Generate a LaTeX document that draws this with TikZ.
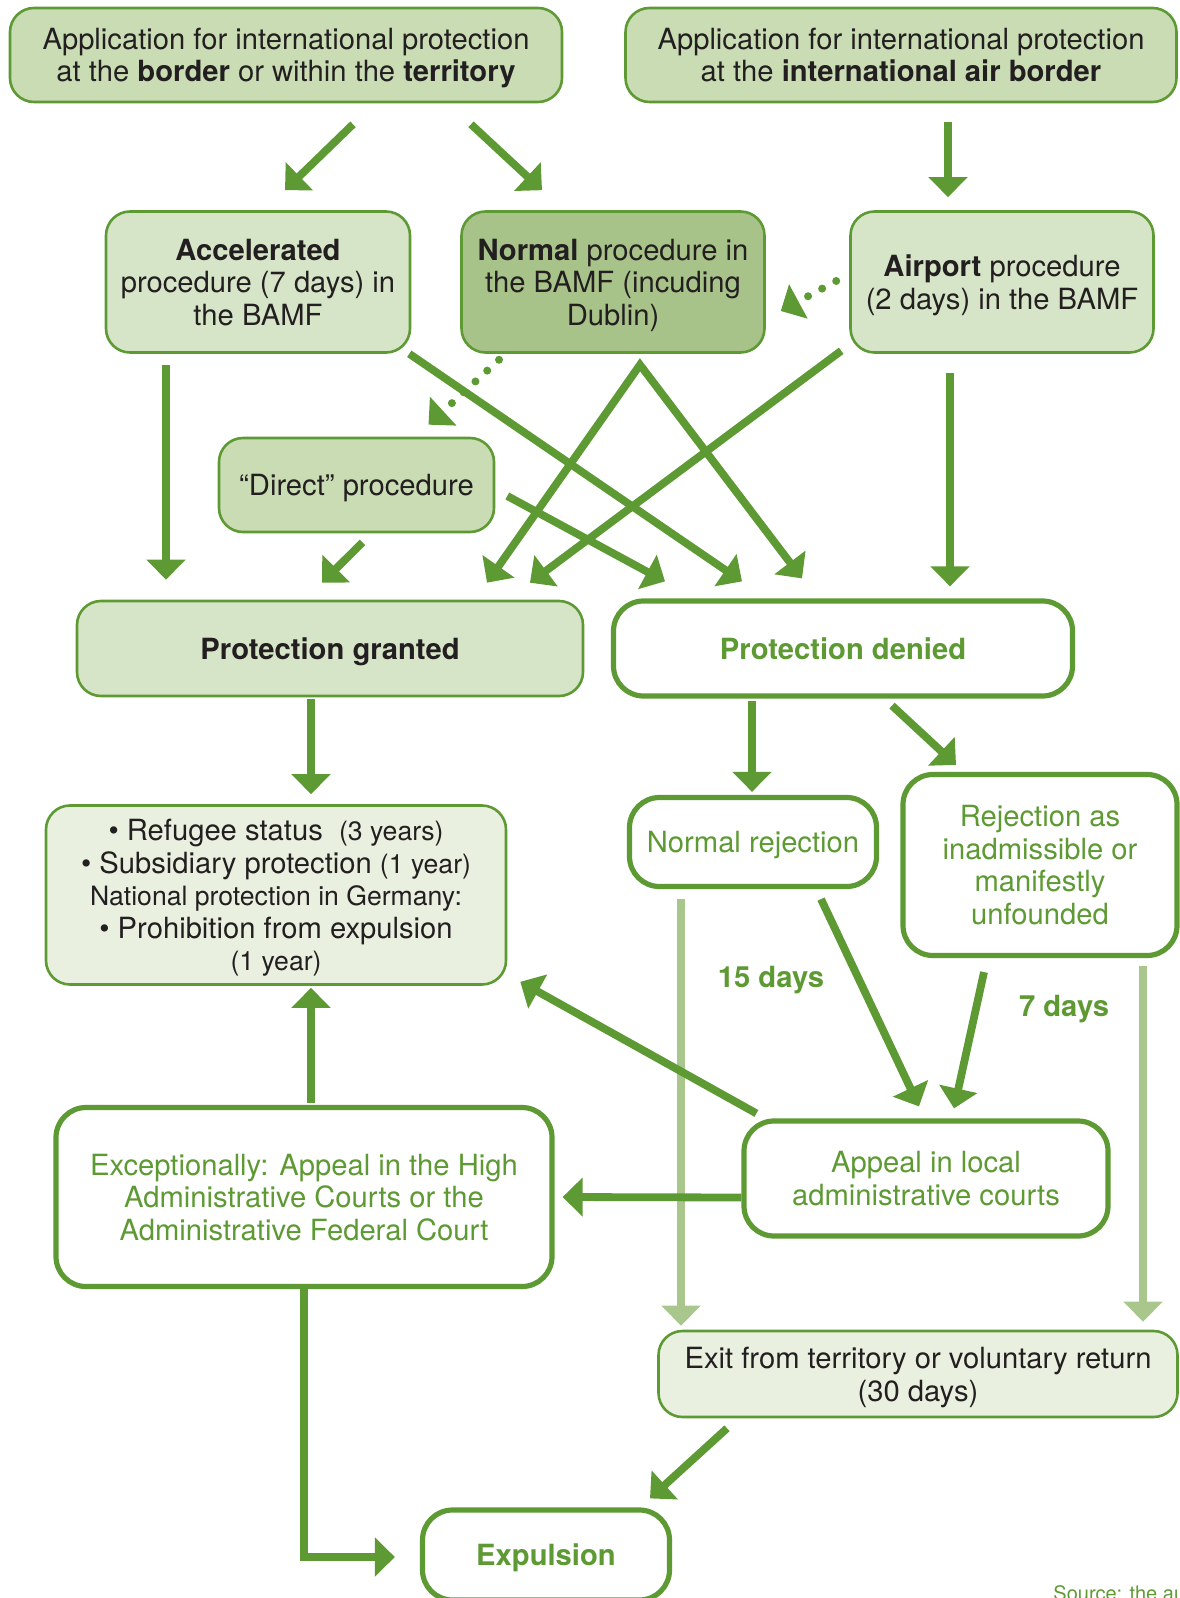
\documentclass[tikz,border=0pt]{standalone}
\usepackage{fontspec}
\setmainfont{TeX Gyre Heros}
\usepackage{tikz}
\usetikzlibrary{calc,positioning,arrows.meta}
\definecolor{leaf}{RGB}{94,154,51}
\definecolor{pale}{RGB}{169,199,141}
\definecolor{sage}{RGB}{201,220,180}
\definecolor{mint}{RGB}{214,229,199}
\definecolor{moss}{RGB}{168,195,137}
\definecolor{mist}{RGB}{233,240,224}
\definecolor{ink}{RGB}{35,31,32}
\newcommand{\smalltext}[1]{{\fontsize{13.3}{16.3}\selectfont #1}}
\tikzstyle{flow}   = [draw=leaf, line width=3.9pt, -{Triangle[length=10pt,width=19pt]}]
\tikzstyle{twoway} = [flow, {Triangle[length=10pt,width=19pt]}-{Triangle[length=10pt,width=19pt]}]
\tikzstyle{faint}  = [draw=pale, line width=3.6pt, -{Triangle[length=10pt,width=19pt]}]
\tikzstyle{hint}   = [draw=leaf, line width=4pt, line cap=round, dash pattern=on 0pt off 8pt, -{Triangle[length=10pt,width=19pt]}]

\begin{document}
\begin{tikzpicture}[x=0.5pt, y=-0.5pt, font=\fontsize{14.6}{16.3}\selectfont,
        box/.style={draw=leaf, line width=1.3pt, rounded corners=12pt, align=center, text=ink, inner sep=0pt, text depth=0pt},
        tintbox/.style={box, fill=#1},
        whitebox/.style={box, fill=white, line width=2.6pt, text=leaf, rounded corners=15pt},
        days/.style={text=leaf, font=\fontsize{14.6}{16}\selectfont\bfseries}]

    \useasboundingbox (0,0) rectangle (1179,1598);

    \node[tintbox=sage, minimum width=276pt, minimum height=47pt] (border) at (286,55)
        {Application for international protection\\at the \textbf{border} or within the \textbf{territory}};
    \node[tintbox=sage, minimum width=275.5pt, minimum height=47pt] (air) at (901,55)
        {Application for international protection\\at the \textbf{international air border}};

    \node[tintbox=mint, minimum width=152pt, minimum height=70.5pt] (accel) at (258,282)
        {\textbf{Accelerated}\\procedure (7 days) in\\the BAMF};
    \node[tintbox=moss, minimum width=151.5pt, minimum height=70.5pt] (normal) at (613,282)
        {\textbf{Normal} procedure in\\the BAMF (incuding\\Dublin)};
    \node[tintbox=mint, minimum width=151.5pt, minimum height=70.5pt] (airport) at (1002,282)
        {\textbf{Airport} procedure\\(2 days) in the BAMF};
    \node[tintbox=sage, minimum width=137.5pt, minimum height=47pt] (direct) at (356.5,485)
        {“Direct” procedure};

    \node[tintbox=mint, minimum width=253pt, minimum height=47.5pt] (granted) at (330,648.5)
        {\textbf{Protection granted}};
    \node[whitebox, minimum width=229.5pt, minimum height=47.5pt] (denied) at (843,648.5)
        {\textbf{Protection denied}};

    \node[tintbox=mist, minimum width=230pt, minimum height=89.5pt] (status) at (276,895)
        {• Refugee status \ \smalltext{(3 years)}\\• Subsidiary protection \smalltext{(1 year)}\\
         \smalltext{National protection in Germany:}\\• Prohibition from expulsion\\\smalltext{(1 year)}};
    \node[whitebox, minimum width=123.5pt, minimum height=44.5pt] (normrej) at (753,842)
        {Normal rejection};
    \node[whitebox, minimum width=137pt, minimum height=90.5pt] (inadm) at (1040,865)
        {Rejection as\\inadmissible or\\manifestly\\unfounded};

    \node[whitebox, minimum width=248pt, minimum height=89.5pt] (higher) at (304,1197)
        {Exceptionally: Appeal in the High\\Administrative Courts or the\\Administrative Federal Court};
    \node[whitebox, minimum width=182pt, minimum height=57.5pt] (local) at (926,1178.5)
        {Appeal in local\\administrative courts};
    \node[tintbox=mist, minimum width=259.5pt, minimum height=43pt] (exit) at (918,1374)
        {Exit from territory or voluntary return\\(30 days)};
    \node[whitebox, minimum width=123.5pt, minimum height=45pt] (expel) at (546,1555)
        {\textbf{Expulsion}};

    \node[days] (d15) at (771,980) {15 days};
    \node[days] (d7) at (1064,1009) {7 days};
    \node[anchor=north west, text=leaf, font=\fontsize{10}{12}\selectfont, inner sep=0pt] (source) at (1053,1585)
        {Source: the au};

    \draw[flow] ($(border.south)+(67,21)$) -- ($(accel.north)+(27,-20)$);
    \draw[flow] ($(border.south)+(185,21)$) -- ($(normal.north)+(-71,-20)$);
    \draw[flow] ($(air.south)+(47,19)$) -- ($(airport.north)+(-54,-13)$);
    \draw[hint] ($(airport.west)+(-13,-1)$) -- ($(normal.east)+(15,29)$);
    \draw[hint] ($(normal.south)+(-114,6)$) -- ($(direct.north)+(72,-12)$);

    \draw[flow] ($(accel.south)+(-92,11)$) -- ($(granted.north)+(-164,-20)$);
    \draw[flow] ($(accel.south east)+(-2,0)$) -- ($(denied.north)+(-101,-17)$);
    \coordinate (fork) at ($(normal.south)+(27,11)$);
    \draw[twoway] ($(granted.north)+(157,-17)$) -- (fork) -- ($(denied.north)+(-41,-20)$);
    \draw[flow] ($(airport.south west)+(-8,-3)$) -- ($(granted.north)+(200,-17)$);
    \draw[flow] ($(airport.south)+(-52,19)$) -- ($(denied.north)+(107,-12)$);
    \draw[flow] ($(direct.south)+(6,9)$) -- ($(granted.north)+(-8,-17)$);
    \draw[flow] ($(direct.east)+(12,11)$) -- ($(denied.north)+(-178,-17)$);

    \draw[flow] ($(granted.south)+(-19,2)$) -- ($(status.north)+(35,-10)$);
    \draw[flow] ($(denied.south)+(-91,2)$) -- ($(normrej.north)+(-1,-3)$);
    \draw[flow] ($(denied.south)+(49,7)$) -- ($(inadm.north)+(-84,-7)$);

    \draw[flow] ($(normrej.south)+(68,10)$) -- ($(local.north)+(-7,-12)$);
    \draw[flow] ($(inadm.south)+(-56,14)$) -- ($(local.north)+(28,-10)$);
    \draw[faint] ($(normrej.south)+(-72,10)$) -- ($(exit.north)+(-237,-4)$);
    \draw[faint] ($(inadm.south)+(103,8)$) -- ($(exit.north)+(225,-8)$);

    \draw[flow] ($(local.north west)+(15,-5)$) -- ($(status.south east)+(13,-4)$);
    \draw[flow] ($(local.west)+(0,19)$) -- ($(higher.east)+(8,0)$);
    \draw[flow] ($(higher.north)+(7,-2)$) -- ($(status.south)+(35,2)$);
    \draw[flow] (higher.south) |- ($(expel.west)+(-25,2)$);
    \draw[flow] ($(exit.south)+(-191,10)$) -- ($(expel.north)+(104,-9)$);
\end{tikzpicture}
\end{document}
